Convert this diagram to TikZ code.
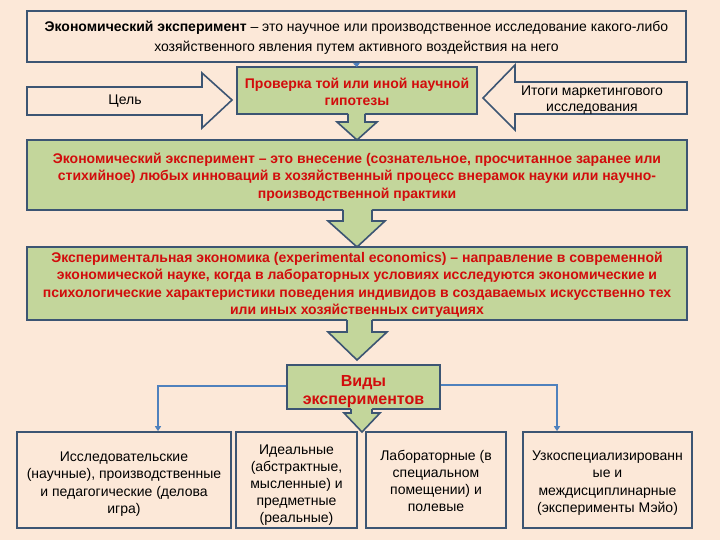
\documentclass[tikz,border=0pt]{standalone}
\usepackage{fontspec}
\setmainfont{Liberation Sans}
\usetikzlibrary{arrows.meta}
\definecolor{bgpeach}{RGB}{252,232,216}
\definecolor{boxfill}{RGB}{252,232,216}
\definecolor{greenfill}{RGB}{195,214,155}
\definecolor{edgeblue}{RGB}{60,85,115}
\definecolor{connblue}{RGB}{79,129,189}
\definecolor{redtxt}{RGB}{210,12,12}
\newcommand{\lineup}[1]{\rule{0pt}{#1}}
\tikzset{
  plainbox/.style={draw=edgeblue, line width=1.6pt, fill=boxfill, inner sep=0pt, align=center, text=black},
  greenbox/.style={draw=edgeblue, line width=1.6pt, fill=greenfill, inner sep=0pt, align=center, text=redtxt,
    font=\fontsize{14}{17.5}\selectfont\bfseries},
  bottomtext/.style={font=\fontsize{14}{17.2}\selectfont},
  sidearrow/.style={draw=edgeblue, line width=1.6pt, fill=boxfill, line join=miter},
  conn/.style={draw=connblue, line width=1.8pt, -{Triangle[length=5pt,width=6pt]}},
}
\begin{document}
\begin{tikzpicture}[x=1pt,y=-1pt]
\fill[bgpeach] (0,0) rectangle (720,540);
\useasboundingbox (0,0) rectangle (720,540);

% top box
\node[plainbox, minimum width=659pt, minimum height=51pt, font=\fontsize{14}{20}\selectfont]
  (top) at (356.5,36.5) {\lineup{13.2pt}\textbf{Экономический эксперимент} – это научное или производственное исследование какого-либо\\
  хозяйственного явления путем активного воздействия на него};

% side arrows
\draw[sidearrow] (27,87) -- (202,87) -- (202,73) -- (232,100) -- (202,128) -- (202,115) -- (27,115) -- cycle;
\node[font=\fontsize{14}{18}\selectfont] (goal) at (125,101) {Цель};
\draw[sidearrow] (687,82) -- (515,82) -- (515,65) -- (483,98) -- (515,130) -- (515,114) -- (687,114) -- cycle;
\node[font=\fontsize{14}{16.5}\selectfont, align=center] (results) at (592,100) {Итоги маркетингового\\исследования};

% green box 1
\node[greenbox, minimum width=240pt, minimum height=47pt, font=\fontsize{14}{17}\selectfont\bfseries] (hyp) at (357,90.5)
  {\lineup{13pt}Проверка той или иной научной\\гипотезы};
\coordinate (hypin) at (357,67);
\draw[conn, -{Triangle[length=4pt,width=7pt]}, line width=1pt] (top.south) -- (hypin);

% box 2
\node[greenbox, minimum width=660pt, minimum height=70pt] (def) at (357,175)
  {\lineup{14.2pt}Экономический эксперимент – это внесение (сознательное, просчитанное заранее или\\
  стихийное) любых инноваций в хозяйственный процесс внерамок науки или научно-\\
  производственной практики};

% arrow 1 (hyp -> def)
\fill[greenfill] (348,112) -- (348,122) -- (337,122) -- (357,140) -- (377,122) -- (365,122) -- (365,112) -- cycle;
\draw[edgeblue, line width=1.6pt, line join=miter] (348,114) -- (348,122) -- (337,122) -- (357,140) -- (377,122) -- (365,122) -- (365,114);

% box 3
\node[greenbox, minimum width=660pt, minimum height=73pt] (econ) at (357,283.5)
  {\lineup{13.2pt}Экспериментальная экономика (experimental economics) – направление в современной\\
  экономической науке, когда в лабораторных условиях исследуются экономические и\\
  психологические характеристики поведения индивидов в создаваемых искусственно тех\\
  или иных хозяйственных ситуациях};

% arrow 2 (def -> econ)
\fill[greenfill] (343,208) -- (343,221) -- (328,221) -- (357,247) -- (385,221) -- (372,221) -- (372,208) -- cycle;
\draw[edgeblue, line width=1.6pt, line join=miter] (343,210) -- (343,221) -- (328,221) -- (357,247) -- (385,221) -- (372,221) -- (372,210);

% types box
\node[greenbox, minimum width=153pt, minimum height=44pt, font=\fontsize{16}{18}\selectfont\bfseries] (types) at (363.5,387)
  {\lineup{19.5pt}Виды\\экспериментов};

% arrow 3 (econ -> types)
\fill[greenfill] (347,318) -- (347,332) -- (328,332) -- (357,360) -- (387,332) -- (372,332) -- (372,318) -- cycle;
\draw[edgeblue, line width=1.6pt, line join=miter] (347,320) -- (347,332) -- (328,332) -- (357,360) -- (387,332) -- (372,332) -- (372,320);

% bottom boxes
\node[plainbox, bottomtext, minimum width=214pt, minimum height=96pt] (ba) at (124,480)
  {\lineup{18pt}Исследовательские\\(научные), производственные\\и педагогические (делова\\игра)};
\node[plainbox, bottomtext, minimum width=121pt, minimum height=96pt] (bb) at (296.5,480)
  {\lineup{20pt}Идеальные\\(абстрактные,\\мысленные) и\\предметные\\(реальные)};
\node[plainbox, bottomtext, minimum width=140pt, minimum height=96pt] (bc) at (436,480)
  {\lineup{12pt}Лабораторные (в\\специальном\\помещении) и\\полевые};
\node[plainbox, bottomtext, minimum width=169pt, minimum height=96pt] (bd) at (607.5,480)
  {\lineup{16pt}Узкоспециализированн\\ые и\\междисциплинарные\\(эксперименты Мэйо)};

% arrow 4 (types -> bottom)
\fill[greenfill] (351,407) -- (351,413) -- (344,413) -- (362,432) -- (380,413) -- (372,413) -- (372,407) -- cycle;
\draw[edgeblue, line width=1.6pt, line join=miter] (351,409) -- (351,413) -- (344,413) -- (362,432) -- (380,413) -- (372,413) -- (372,409);

% connectors
\draw[conn] (types.west |- 0,386) -| (ba.north -| 158,0);
\draw[conn] (types.east |- 0,385) -| (bd.north -| 557,0);
\end{tikzpicture}
\end{document}
